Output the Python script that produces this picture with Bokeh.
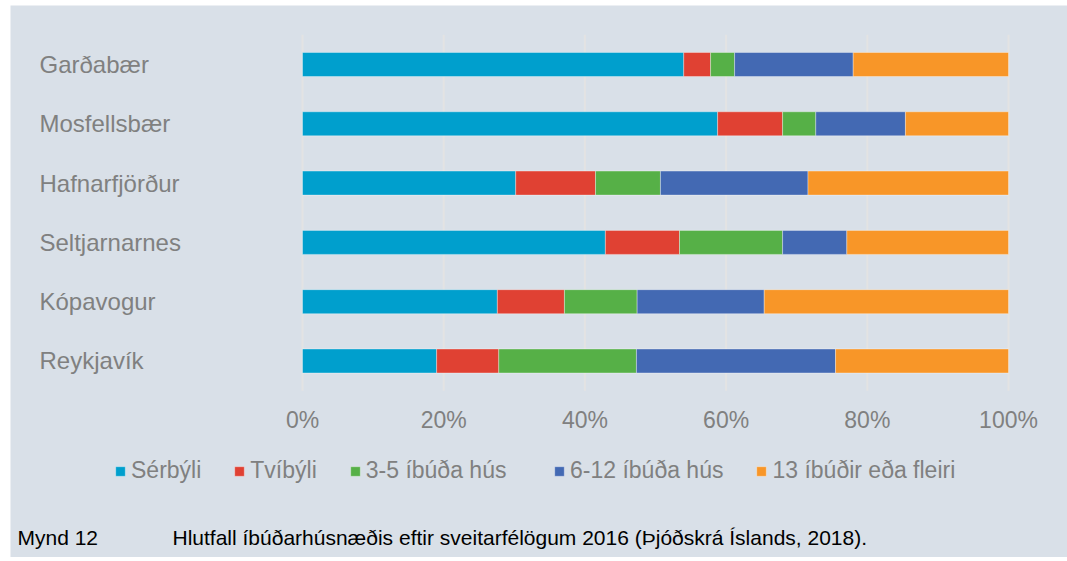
from bokeh.plotting import figure
from bokeh.models import ColumnDataSource, Range1d, Legend, LegendItem, Label
from bokeh.embed import file_html
from bokeh.resources import INLINE
from bokeh.core.properties import value

# ---- data ----
municipalities = ["Garðabær", "Mosfellsbær", "Hafnarfjörður", "Seltjarnarnes", "Kópavogur", "Reykjavík"]
serbyli   = [54.0, 58.8, 30.2, 42.9, 27.6, 19.0]
tvibyli   = [3.8, 9.2, 11.3, 10.5, 9.5, 8.8]
ibud_3_5  = [3.4, 4.7, 9.2, 14.6, 10.3, 19.5]
ibud_6_12 = [16.8, 12.7, 20.9, 9.1, 18.0, 28.2]
ibud_13   = [22.0, 14.6, 28.4, 22.9, 34.6, 24.5]
series_names = ["Sérbýli", "Tvíbýli", "3-5 íbúða hús", "6-12 íbúða hús", "13 íbúðir eða fleiri"]
colors = ["#009fcd", "#e04133", "#56b047", "#4369b3", "#f89628"]
ticks = [0, 20, 40, 60, 80, 100]
tick_labels = ["0%", "20%", "40%", "60%", "80%", "100%"]
caption_num = "Mynd 12"
caption_text = "Hlutfall íbúðarhúsnæðis eftir sveitarfélögum 2016 (Þjóðskrá Íslands, 2018)."

FONT = "Liberation Sans"
BG = "#d9e0e8"
GRAY = "#808080"

keys = ["s1", "s2", "s3", "s4", "s5"]
idx = list(range(len(municipalities)))
source = ColumnDataSource(dict(y=idx, name=municipalities, s1=serbyli, s2=tvibyli,
                               s3=ibud_3_5, s4=ibud_6_12, s5=ibud_13))

p = figure(width=1066, height=552, output_backend="svg", toolbar_location=None,
           x_range=Range1d(-41.36, 109.63), y_range=Range1d(8.314, -0.995),
           min_border=0, background_fill_color=BG, border_fill_color=BG,
           outline_line_color=None,
           styles={"margin-left": "10px", "margin-top": "5px"})
p.axis.visible = False
p.grid.visible = False

# gridlines
p.segment(x0=ticks, x1=ticks, y0=-0.5, y1=len(municipalities) - 0.5,
          line_color="#e3e3e3", line_width=2)

renderers = p.hbar_stack(keys, y="y", height=0.405, source=source, color=colors,
                         line_color="white", line_alpha=0.35, line_width=1)

# category labels
p.text(x=-37.25, y="y", text="name", source=source, text_align="left",
       text_baseline="middle", text_font=value(FONT), text_font_size="24px",
       text_color=GRAY)

# tick labels
p.text(x=ticks, y=[6.0] * len(ticks), text=tick_labels, text_align="center",
       text_baseline="middle", text_font=value(FONT), text_font_size="23px",
       text_color=GRAY)

items = [LegendItem(label=n, renderers=[r]) for n, r in zip(series_names, renderers)]
legend_style = dict(orientation="horizontal", padding=0, margin=0,
                    spacing=32, label_standoff=5, glyph_width=12, glyph_height=12,
                    label_text_font=FONT, label_text_font_size="23px", label_text_color=GRAY,
                    background_fill_alpha=0, border_line_alpha=0)
p.add_layout(Legend(items=items[:3], location=(104, 73), **legend_style), "center")
p.add_layout(Legend(items=items[3:], location=(543, 73), **legend_style), "center")

p.add_layout(Label(x=7, y=20.5, x_units="screen", y_units="screen", text=caption_num,
                   text_font=FONT, text_font_size="21px", text_color="black",
                   text_baseline="middle"))
p.add_layout(Label(x=162, y=20.5, x_units="screen", y_units="screen", text=caption_text,
                   text_font=FONT, text_font_size="21px", text_color="black",
                   text_baseline="middle"))

open("out.html", "w").write(file_html(p, INLINE))
